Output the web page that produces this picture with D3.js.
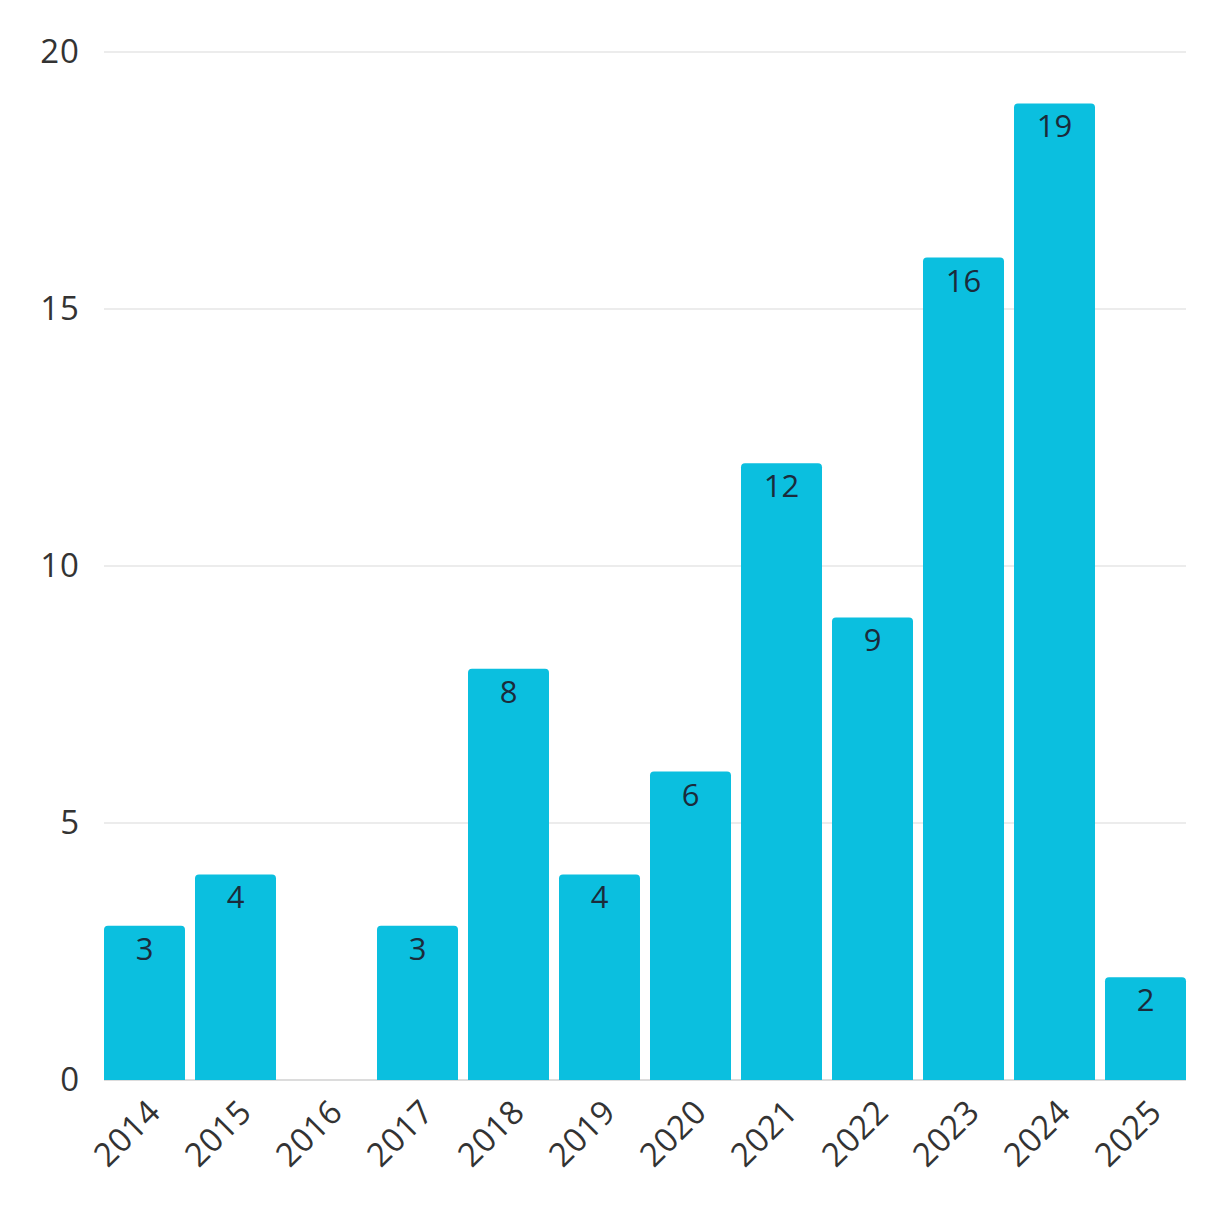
<!DOCTYPE html>
<html>
<head>
<meta charset="utf-8">
<script src="https://cdn.jsdelivr.net/npm/d3@7"></script>
<style>
  body { margin: 0; background: #fff; }
  text { font-family: "Open Sans", sans-serif; }
</style>
</head>
<body>
<script>
const years = ["2014", "2015", "2016", "2017", "2018", "2019", "2020", "2021", "2022", "2023", "2024", "2025"];
const counts = [3, 4, 0, 3, 8, 4, 6, 12, 9, 16, 19, 2];
const yTicks = [0, 5, 10, 15, 20];

const margin = {top: 52, right: 36, bottom: 128, left: 104};
const width = 1222 - margin.left - margin.right;
const height = 1208 - margin.top - margin.bottom;

const svg = d3.select("body").append("svg")
    .attr("width", 1222)
    .attr("height", 1208)
  .append("g")
    .attr("transform", `translate(${margin.left},${margin.top})`);

const x = d3.scaleBand()
    .domain(years)
    .range([0, width])
    .paddingInner(0.11)
    .paddingOuter(0);

const y = d3.scaleLinear()
    .domain([0, 20])
    .range([height, 0]);

const data = years.map((yr, i) => ({year: yr, count: counts[i]}));

// gridlines
svg.append("g")
    .selectAll("line")
    .data(yTicks)
    .join("line")
      .attr("x1", 0)
      .attr("x2", width)
      .attr("y1", d => y(d))
      .attr("y2", d => y(d))
      .attr("stroke", d => d === 0 ? "#dcdcdc" : "#ececec")
      .attr("stroke-width", 2);

// y axis labels
const yAxis = svg.append("g")
    .attr("transform", "translate(-24,0)")
    .call(d3.axisLeft(y).tickValues(yTicks).tickSize(0).tickPadding(0));
yAxis.select(".domain").remove();
yAxis.selectAll("text")
    .attr("font-size", 33)
    .attr("letter-spacing", 1)
    .attr("fill", "#333");

// x axis labels
const xAxis = svg.append("g")
    .attr("transform", `translate(0,${height})`)
    .call(d3.axisBottom(x).tickSize(0).tickPadding(0));
xAxis.select(".domain").remove();
xAxis.selectAll("text")
    .attr("font-size", 33)
    .attr("letter-spacing", 0.5)
    .attr("fill", "#333")
    .attr("text-anchor", "end")
    .attr("dy", 0)
    .attr("transform", "translate(18,34) rotate(-45)");

// bars with rounded top corners
const r = 4;
function barPath(d) {
  const x0 = x(d.year), w = x.bandwidth();
  const y0 = y(d.count), y1 = y(0);
  if (d.count === 0) return "";
  return `M${x0},${y1}V${y0 + r}Q${x0},${y0} ${x0 + r},${y0}H${x0 + w - r}Q${x0 + w},${y0} ${x0 + w},${y0 + r}V${y1}Z`;
}

svg.append("g")
    .selectAll("path")
    .data(data)
    .join("path")
      .attr("d", barPath)
      .attr("fill", "#0bbfdf");

svg.append("g")
    .selectAll("text")
    .data(data.filter(d => d.count > 0))
    .join("text")
      .attr("x", d => x(d.year) + x.bandwidth() / 2)
      .attr("y", d => y(d.count) + 34)
      .attr("text-anchor", "middle")
      .attr("font-size", 31)
      .attr("fill", "#1b2b3b")
      .text(d => d.count);
</script>
</body>
</html>
